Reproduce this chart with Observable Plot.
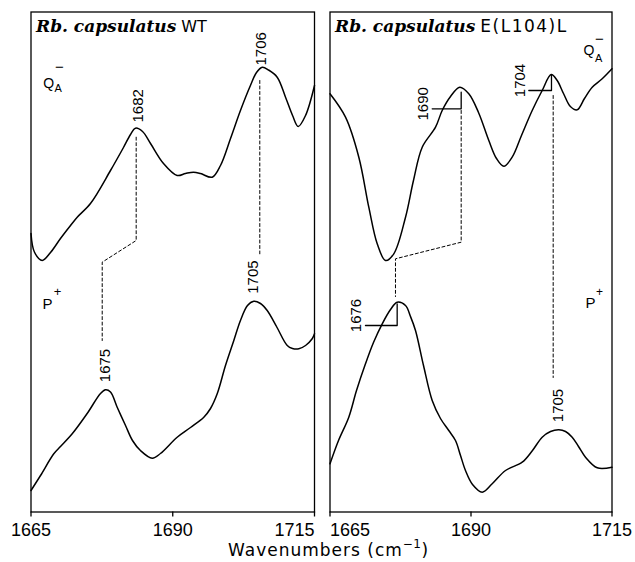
<!DOCTYPE html>
<html>
<head>
<meta charset="utf-8">
<script src="https://cdn.jsdelivr.net/npm/d3@7"></script>
<script src="https://cdn.jsdelivr.net/npm/@observablehq/plot@0.6"></script>
<style>
  body { margin: 0; background: #fff; }
  #wrap { position: relative; width: 635px; height: 562px; }
  #row { display: flex; }
  #xlabel { position: absolute; left: 228px; top: 542px; font-family: "DejaVu Sans", sans-serif; font-size: 17px; line-height: 1; color: #000; letter-spacing: 1px; white-space: nowrap; }
  #xlabel .sup { position: relative; top: -8px; font-size: 12px; letter-spacing: 0.5px; }
</style>
</head>
<body>
<div id="wrap">
  <div id="row"></div>
  <div id="xlabel">Wavenumbers (cm<span class="sup">−1</span>)</div>
</div>
<script>
// ---- data (wavenumber cm^-1, intensity a.u.) ----
const xTicks = [1665, 1690, 1715];

const wtQA = [[1665.0,27.85],[1665.6,26.0],[1666.98,25.15],[1668.44,25.95],[1670.20,27.35],[1671.97,28.65],[1673.15,29.48],[1675.49,30.85],[1679.02,34.15],[1681.31,36.45],[1682.55,37.75],[1683.43,38.38],[1684.67,38.05],[1686.08,36.85],[1688.37,34.85],[1690.78,33.65],[1692.25,33.85],[1693.66,33.98],[1694.89,33.85],[1696.96,33.48],[1698.42,34.65],[1700.19,37.35],[1701.94,40.15],[1703.70,42.65],[1704.77,43.95],[1705.78,44.48],[1706.90,44.2],[1708.42,43.48],[1709.89,41.48],[1711.13,39.65],[1712.13,38.55],[1713.42,39.65],[1715.0,42.65]];

const wtP = [[1665.0,2.15],[1666.68,3.65],[1669.02,5.82],[1670.20,6.55],[1672.27,7.82],[1674.91,9.85],[1677.26,11.85],[1678.14,12.22],[1679.02,12.0],[1680.20,10.48],[1681.67,8.65],[1682.90,7.15],[1684.30,6.15],[1686.38,5.38],[1687.83,5.85],[1690.78,7.48],[1693.13,8.45],[1695.48,9.48],[1696.66,10.35],[1697.84,11.82],[1699.30,14.65],[1700.77,17.15],[1701.94,19.15],[1703.18,20.65],[1704.29,21.08],[1705.47,20.85],[1706.66,20.15],[1708.30,18.55],[1710.19,16.65],[1711.12,16.35],[1712.23,16.32],[1713.42,16.65],[1714.59,17.32],[1715.0,17.82]];

const mutQA = [[1665.0,41.82],[1667.75,39.48],[1670.11,35.48],[1671.88,30.48],[1673.37,26.82],[1674.84,25.15],[1676.31,25.82],[1678.39,29.48],[1679.80,33.15],[1681.35,36.48],[1683.71,38.48],[1684.89,40.15],[1686.37,41.55],[1688.01,42.48],[1689.61,41.82],[1691.33,39.95],[1693.16,37.15],[1694.52,35.35],[1695.82,34.58],[1697.30,35.48],[1698.95,37.65],[1700.85,40.15],[1702.62,42.15],[1704.22,43.75],[1705.28,43.15],[1706.40,41.85],[1707.62,40.55],[1708.83,40.22],[1710.12,41.35],[1711.49,42.48],[1713.26,43.32],[1715.0,44.32]];

const mutP = [[1665.0,4.82],[1666.51,7.15],[1668.33,9.48],[1669.70,12.15],[1671.29,14.82],[1672.71,16.95],[1674.26,18.82],[1675.73,20.25],[1676.91,20.98],[1678.39,20.65],[1679.27,19.55],[1680.16,18.15],[1681.58,14.65],[1683.12,11.15],[1684.59,9.35],[1686.06,8.15],[1687.25,7.15],[1688.14,5.65],[1689.02,4.15],[1690.27,2.75],[1691.99,1.98],[1693.76,2.82],[1696.12,4.15],[1699.08,4.98],[1700.90,6.15],[1702.62,7.48],[1704.10,8.05],[1705.57,8.22],[1706.76,8.05],[1707.94,7.48],[1709.06,6.55],[1710.30,5.48],[1712.38,4.42],[1715.0,4.48]];

// peak labels: text, wavenumber, intensity where label starts
const wtPeakText = ["1682", "1706", "1675", "1705"];
const wtPeakW = [1683.87, 1705.65, 1678.14, 1704.15];
const wtPeakV = [38.95, 44.65, 12.98, 21.82];
const mutPeakText = ["1690", "1704", "1676", "1705"];
const mutPeakW = [1681.49, 1698.78, 1669.67, 1705.54];
const mutPeakV = [39.15, 41.48, 17.98, 8.98];

// dashed correlation lines [id, wavenumber, intensity]
const wtDashed = [[0,1683.55,37.48],[0,1683.55,27.15],[0,1677.56,24.98],[0,1677.56,17.15],[1,1705.35,43.15],[1,1705.35,25.82]];
const mutDashed = [[0,1688.26,40.15],[0,1688.26,26.98],[0,1676.61,25.32],[0,1676.61,21.55],[1,1704.57,41.65],[1,1704.57,13.45]];
// solid leader lines
const wtLeaders = [];
const mutLeaders = [[0,1683.12,40.32],[0,1688.26,40.32],[0,1688.26,41.98],[1,1700.25,42.15],[1,1704.27,42.15],[1,1704.27,43.65],[2,1671.29,18.65],[2,1676.91,18.65],[2,1676.91,20.82]];

// spectrum labels
const titles = ["Rb. capsulatus|WT", "Rb. capsulatus|E(L104)L"];
const titleV = 48.55;
const qaPos = [[1667.15, 42.8], [1709.95, 46.1]];
const pPos = [[1667.03, 20.83], [1710.30, 20.93]];

const toXY = a => a.map(([w, v]) => ({w, v}));
const toLines = a => a.map(([id, w, v]) => ({id, w, v}));

function panel(o) {
  const fmt = d3.format("d");
  const axisCommon = {tickSize: 5, tickPadding: 6, fontSize: 18, label: null, tickFormat: fmt, strokeWidth: 1.3};
  const labels = o.peakText.map((t, i) => ({t, w: o.peakW[i], v: o.peakV[i]}));
  const q = [{w: o.qa[0], v: o.qa[1]}];
  const p = [{w: o.p[0], v: o.p[1]}];
  const svg = Plot.plot({
    width: o.width, height: 540,
    marginLeft: o.ml, marginRight: o.mr, marginTop: 11.5, marginBottom: 28.5,
    x: {domain: [1665, 1715], axis: null},
    y: {domain: [0, 50], axis: null},
    style: {fontFamily: "'Liberation Sans', Arial, sans-serif", background: "#fff", color: "#000", overflow: "visible"},
    marks: [
      Plot.frame({stroke: "#000", strokeWidth: 1.3}),
      ...o.axes.map(a => Plot.axisX({...axisCommon, ticks: a.ticks, textAnchor: a.anchor})),
      Plot.line(toXY(o.qSeries), {x: "w", y: "v", curve: "catmull-rom", stroke: "#000", strokeWidth: 1.5}),
      Plot.line(toXY(o.pSeries), {x: "w", y: "v", curve: "catmull-rom", stroke: "#000", strokeWidth: 1.5}),
      Plot.line(toLines(o.dashed), {x: "w", y: "v", z: "id", stroke: "#000", strokeWidth: 1, strokeDasharray: "3,2.5"}),
      Plot.line(toLines(o.leaders), {x: "w", y: "v", z: "id", stroke: "#000", strokeWidth: 1.3}),
      Plot.text(labels, {x: "w", y: "v", text: "t", rotate: -90, textAnchor: "start", fontSize: 15}),
      Plot.text([o.title], {x: () => 1665, y: () => titleV, text: d => d, textAnchor: "start", dx: 5, fontSize: 17}),
      Plot.text(q, {x: "w", y: "v", text: () => "Q_A^−", textAnchor: "start", fontSize: 14}),
      Plot.text(p, {x: "w", y: "v", text: () => "P^+", textAnchor: "start", fontSize: 15})
    ]
  });
  const s = d3.select(svg);
  s.selectAll("text").each(function() {
    const str = this.textContent;
    const t = d3.select(this);
    if (str.includes("|")) {
      const [a, b] = str.split("|");
      t.text(null);
      t.append("tspan").attr("font-family", "'DejaVu Serif', serif").attr("font-weight", "bold").attr("font-style", "italic").text(a);
      t.append("tspan").attr("font-family", "'DejaVu Sans', sans-serif").attr("dx", 5).attr("font-size", o.strainSize).attr("letter-spacing", o.strainSpacing).text(b);
    } else if (str === "Q_A^−") {
      t.text(null);
      t.append("tspan").text("Q");
      t.append("tspan").attr("font-size", 11).attr("dx", o.aDx).attr("dy", o.aDy).text("A");
      t.append("tspan").attr("font-size", 15).attr("dx", o.barDx).attr("dy", o.barDy).text("−");
    } else if (str === "P^+") {
      t.text(null);
      t.append("tspan").text("P");
      t.append("tspan").attr("font-size", o.plusSize).attr("dx", o.plusDx).attr("dy", o.plusDy).text("+");
    }
  });
  return svg;
}

const left = panel({
  width: 320, ml: 30.5, mr: 6,
  axes: [{ticks: [xTicks[0], xTicks[1]], anchor: "middle"}, {ticks: [xTicks[2]], anchor: "end"}],
  qSeries: wtQA, pSeries: wtP, dashed: wtDashed, leaders: wtLeaders,
  peakText: wtPeakText, peakW: wtPeakW, peakV: wtPeakV,
  title: titles[0], qa: qaPos[0], p: pPos[0], strainSize: 16, strainSpacing: 0,
  aDx: 0.5, aDy: 4, barDx: -6.9, barDy: -20.5, plusDx: 1.2, plusDy: -12.2, plusSize: 13
});
const right = panel({
  width: 315, ml: 9.5, mr: 23.5,
  axes: [{ticks: [xTicks[0]], anchor: "start"}, {ticks: [xTicks[1], xTicks[2]], anchor: "middle"}],
  qSeries: mutQA, pSeries: mutP, dashed: mutDashed, leaders: mutLeaders,
  peakText: mutPeakText, peakW: mutPeakW, peakV: mutPeakV,
  title: titles[1], qa: qaPos[1], p: pPos[1], strainSize: 17, strainSpacing: 1.5,
  aDx: 0.5, aDy: 7, barDx: -7.3, barDy: -18.5, plusDx: 0.5, plusDy: -11.5, plusSize: 12
});

document.getElementById("row").append(left, right);
</script>
</body>
</html>
